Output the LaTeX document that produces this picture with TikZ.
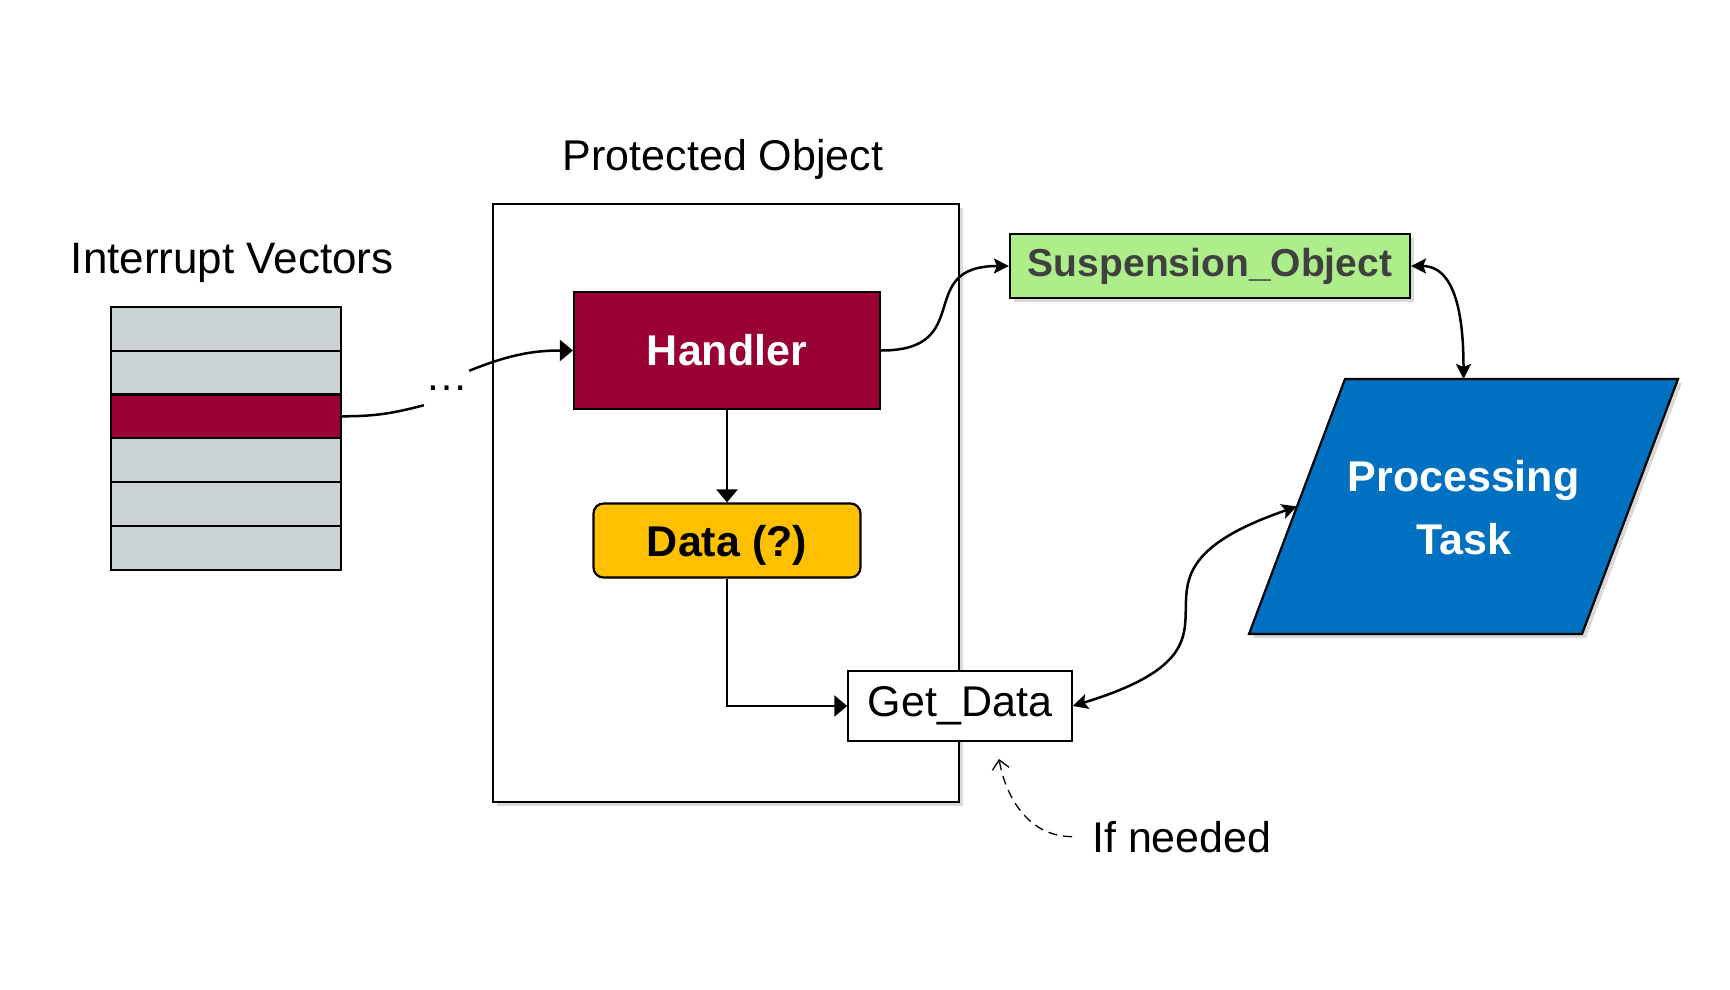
\documentclass[tikz,border=0pt]{standalone}
\usepackage{fontspec}
\setmainfont{Liberation Sans}
\usetikzlibrary{arrows.meta,shadows}
\definecolor{vecgray}{RGB}{203,211,212}
\definecolor{hred}{RGB}{153,0,51}
\definecolor{dyellow}{RGB}{255,192,0}
\definecolor{sgreen}{RGB}{174,238,138}
\definecolor{pblue}{RGB}{0,112,192}
\definecolor{sgtext}{RGB}{64,64,64}
\begin{document}
\begin{tikzpicture}[x=1pt,y=-1pt,
  big/.style={font=\fontsize{43pt}{52pt}\selectfont},
  bigb/.style={font=\fontsize{43pt}{63pt}\selectfont\bfseries},
  vrow/.style={draw=black, line width=2.2pt, fill=vecgray, minimum width=230pt, minimum height=43.8pt, inner sep=0pt},
  box/.style={draw=black, line width=2.2pt, inner sep=0pt},
  shad/.style={drop shadow={opacity=0.3, shadow xshift=4pt, shadow yshift=-4pt}},
  conn/.style={line width=2.5pt, draw=black},
  tipT/.style={-{Triangle[length=13pt,width=21pt]}},
  tipS/.style={-{Stealth[length=15pt,width=15pt,inset=3pt]}},
  tipSS/.style={{Stealth[length=15pt,width=15pt,inset=3pt]}-{Stealth[length=15pt,width=15pt,inset=3pt]}},
]
\useasboundingbox (0,0) rectangle (1730,990);

% labels
\node[font=\fontsize{44pt}{52pt}\selectfont, inner sep=0pt, anchor=base west] (ivlbl) at (70.6,273.6) {Interrupt Vectors};
\node[big, inner sep=0pt, anchor=base west] (polbl) at (562.7,170) {Protected Object};

% interrupt vector table
\node[vrow] (v1) at (226,328.7) {};
\node[vrow] (v2) at (226,372.5) {};
\node[vrow, fill=hred] (v3) at (226,416.3) {};
\node[vrow] (v4) at (226,460.1) {};
\node[vrow] (v5) at (226,503.9) {};
\node[vrow] (v6) at (226,547.7) {};

% protected object
\node[box, line width=2.5pt, fill=white, shad, minimum width=466pt, minimum height=598pt] (po) at (726,503) {};

\node[box, fill=hred, text=white, bigb, minimum width=306pt, minimum height=117pt] (handler) at (727,350.5) {Handler};
\node[box, fill=dyellow, rounded corners=10pt, bigb, text height=31pt, text depth=0pt, minimum width=267pt, minimum height=74pt] (data) at (727,540.5) {Data (?)};
\node[box, line width=1.5pt, fill=white, big, minimum width=224pt, minimum height=70pt] (getdata) at (960,706) {Get\_Data};

% suspension object
\node[box, fill=sgreen, shad, text=sgtext, font=\fontsize{39pt}{47pt}\selectfont\bfseries, minimum width=400pt, minimum height=64pt] (susp) at (1210,266) {Suspension\_Object};

% processing task
\coordinate (pbl) at (1249,634);
\coordinate (ptl) at (1345,379);
\coordinate (ptr) at (1678,379);
\coordinate (pbr) at (1582,634);
\draw[line width=2.2pt, fill=pblue, shad] (pbl) -- (ptl) -- (ptr) -- (pbr) -- cycle;
\node[bigb, text=white, align=center, inner sep=0pt] (proc) at (1463.5,508) {Processing\\Task};
\coordinate (procN) at (1463.5,379);
\coordinate (procW) at (1297,506.5);

% dots
\node[big, minimum width=45pt, minimum height=34pt, inner sep=0pt] (dots) at (446.5,388) {…};

% if needed
\node[big, inner xsep=20pt, inner ysep=0pt, anchor=base west] (ifn) at (1072,852) {If needed};
\coordinate (gdnote) at (999,759);

% connectors
\draw[conn] (v3.east) to[out=0,in=195] (dots.south west);
\draw[conn, tipT] (dots.north east) to[out=22,in=180] (handler.west);
\draw[conn, tipT] (handler.south) -- (data.north);
\draw[conn, tipT] (data.south) |- (getdata.west);
\draw[conn, tipS] (handler.east) to[out=0,in=180,looseness=1.6] (susp.west);
\draw[conn, tipSS] (susp.east) to[out=0,in=90] (procN);
\draw[conn, tipSS] (getdata.east) to[out=17,in=199,looseness=1.9] (procW);
\draw[line width=1.3pt, dash pattern=on 9pt off 6pt, -{Straight Barb[length=9pt,width=17pt]}] (ifn.west) to[out=180,in=-80] (gdnote);
\end{tikzpicture}
\end{document}
